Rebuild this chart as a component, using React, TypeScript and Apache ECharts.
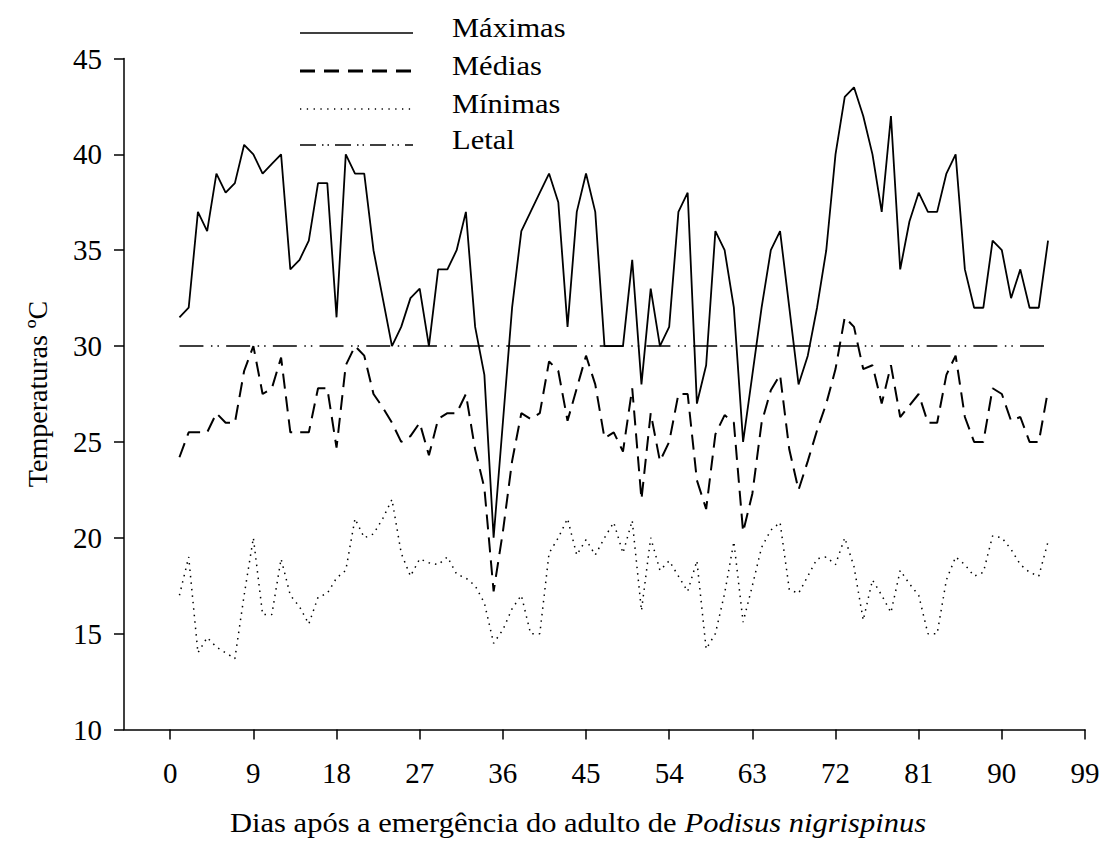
import React, { useEffect, useRef } from "react";
import * as echarts from "echarts";

// Daily temperatures (°C), days 1..95 after adult emergence
const maxT = [
  31.5, 32, 37, 36, 39, 38, 38.5, 40.5, 40, 39, 39.5, 40, 34, 34.5, 35.5, 38.5, 38.5, 31.5, 40, 39,
  39, 35, 32.5, 30, 31, 32.5, 33, 30, 34, 34, 35, 37, 31, 28.5, 20, 26, 32, 36, 37, 38,
  39, 37.5, 31, 37, 39, 37, 30, 30, 30, 34.5, 28, 33, 30, 31, 37, 38, 27, 29, 36, 35,
  32, 25, 28.5, 32, 35, 36, 32, 28, 29.5, 32, 35, 40, 43, 43.5, 42, 40, 37, 42, 34, 36.5,
  38, 37, 37, 39, 40, 34, 32, 32, 35.5, 35, 32.5, 34, 32, 32, 35.5,
];
const meanT = [
  24.2, 25.5, 25.5, 25.5, 26.5, 26, 26, 28.7, 30, 27.5, 27.8, 29.4, 25.5, 25.5, 25.5, 27.8, 27.8, 24.7, 29, 30,
  29.5, 27.5, 26.8, 26, 25, 25.3, 26, 24.3, 26.2, 26.5, 26.5, 27.5, 24.6, 22.6, 17.2, 20.3, 24, 26.5, 26.2, 26.5,
  29.2, 28.7, 26.1, 27.8, 29.5, 28, 25.2, 25.5, 24.5, 27.8, 22, 26.5, 24, 25, 27.5, 27.5, 23, 21.5, 25.4, 26.4,
  26, 20.3, 22.3, 26, 27.7, 28.5, 24.6, 22.5, 24, 25.6, 27, 28.8, 31.5, 31, 28.8, 29, 27, 29, 26.3, 26.9,
  27.5, 26, 26, 28.5, 29.5, 26.3, 25, 25, 27.8, 27.5, 26.1, 26.3, 25, 25, 27.7,
];
const minT = [
  17, 19, 14, 14.8, 14.3, 14, 13.7, 17, 20, 16, 16, 18.9, 17, 16.4, 15.5, 16.9, 17.1, 17.9, 18.3, 21,
  20, 20.2, 21, 22, 19.2, 18, 18.9, 18.7, 18.6, 19, 18.1, 17.9, 17.5, 16.6, 14.5, 15.2, 16.3, 17, 15, 15,
  19.2, 20, 21, 19.1, 19.9, 19.1, 20, 20.8, 19.2, 20.9, 16.2, 20, 18.3, 18.8, 18, 17.2, 18.8, 14.2, 15, 17.1,
  19.8, 15.6, 17.5, 19.5, 20.4, 20.8, 17.3, 17.1, 18, 18.9, 19, 18.6, 20, 18.5, 15.7, 17.8, 17, 16.1, 18.3, 17.6,
  17, 15, 15, 17.8, 19, 18.6, 18, 18.2, 20.1, 20, 19.4, 18.6, 18.2, 18, 19.8,
];
const lethalDays = [1, 95];
const lethalT = [30, 30];
const xTicks = [0, 9, 18, 27, 36, 45, 54, 63, 72, 81, 90, 99];
const seriesNames = ["Máximas", "Médias", "Mínimas", "Letal"];

const FONT = "'Liberation Serif', 'Times New Roman', Times, serif";

export default function App() {
  const ref = useRef<HTMLDivElement>(null);
  useEffect(() => {
    if (!ref.current) return;
    const chart = echarts.init(ref.current, undefined, { renderer: "svg" });
    const toPairs = (arr: number[]) => arr.map((v, i) => [i + 1, v]);
    const legendX1 = 300;
    const legendX2 = 413;
    const legendRows = [33, 71, 109, 145];
    const legendStyles: any[] = [
      { lineWidth: 1.5 },
      { lineWidth: 3, lineDash: [15, 9] },
      { lineWidth: 1.3, lineDash: [1.3, 5.5] },
      { lineWidth: 1.3, lineDash: [16, 6, 1.5, 4, 1.5, 6] },
    ];
    const graphic: any[] = [];
    seriesNames.forEach((n, i) => {
      graphic.push({
        type: "line",
        shape: { x1: legendX1, y1: legendRows[i], x2: legendX2, y2: legendRows[i] },
        style: { stroke: "#000", ...legendStyles[i] },
      });
      graphic.push({
        type: "text",
        x: 452,
        y: legendRows[i] - 6,
        scaleX: 1.09,
        style: {
          text: n,
          fill: "#000",
          fontSize: 28,
          fontFamily: FONT,
          align: "left",
          verticalAlign: "middle",
        },
      });
    });
    graphic.push({
      type: "text",
      x: 578,
      y: 822,
      scaleX: 1.09,
      style: {
        text: "{n|Dias após a emergência do adulto de }{i|Podisus nigrispinus}",
        align: "center",
        verticalAlign: "middle",
        fill: "#000",
        rich: {
          n: { fontSize: 28, fontFamily: FONT, fill: "#000" },
          i: { fontSize: 28, fontFamily: FONT, fontStyle: "italic", fill: "#000" },
        },
      },
    });

    chart.setOption({
      animation: false,
      backgroundColor: "#fff",
      textStyle: { fontFamily: FONT },
      grid: { left: 124, top: 58.5, width: 961, height: 671, containLabel: false },
      xAxis: {
        type: "value",
        min: -5,
        max: 99,
        splitLine: { show: false },
        axisLine: { show: true, onZero: false, lineStyle: { color: "#000", width: 1.5 } },
        axisTick: { show: true, customValues: xTicks, length: 10, lineStyle: { color: "#000", width: 1.5 } },
        axisLabel: {
          customValues: xTicks,
          margin: 29,
          color: "#000",
          fontSize: 29,
          fontFamily: FONT,
        },
      },
      yAxis: {
        type: "value",
        min: 10,
        max: 45,
        interval: 5,
        name: "Temperaturas ºC",
        nameLocation: "middle",
        nameGap: 73,
        nameTextStyle: { color: "#000", fontSize: 28, fontFamily: FONT },
        splitLine: { show: false },
        axisLine: { show: true, onZero: false, lineStyle: { color: "#000", width: 1.5 } },
        axisTick: { show: true, length: 10, lineStyle: { color: "#000", width: 1.5 } },
        axisLabel: { margin: 22, color: "#000", fontSize: 29, fontFamily: FONT },
      },
      graphic,
      series: [
        {
          name: seriesNames[0],
          type: "line",
          data: toPairs(maxT),
          symbol: "none",
          lineStyle: { color: "#000", width: 1.8 },
        },
        {
          name: seriesNames[1],
          type: "line",
          data: toPairs(meanT),
          symbol: "none",
          lineStyle: { color: "#000", width: 2, type: [15, 8] },
        },
        {
          name: seriesNames[2],
          type: "line",
          data: toPairs(minT),
          symbol: "none",
          lineStyle: { color: "#000", width: 1.5, type: [1.5, 5] },
        },
        {
          name: seriesNames[3],
          type: "line",
          data: lethalDays.map((d, i) => [d, lethalT[i]]),
          symbol: "none",
          lineStyle: { color: "#000", width: 1.5, type: [24, 7.5, 1.5, 5, 1.5, 7.2] },
        },
      ],
    });
    return () => chart.dispose();
  }, []);
  return (
    <div
      ref={ref}
      style={{ position: "fixed", left: 0, top: 0, width: 1108, height: 854, background: "#fff" }}
    />
  );
}
